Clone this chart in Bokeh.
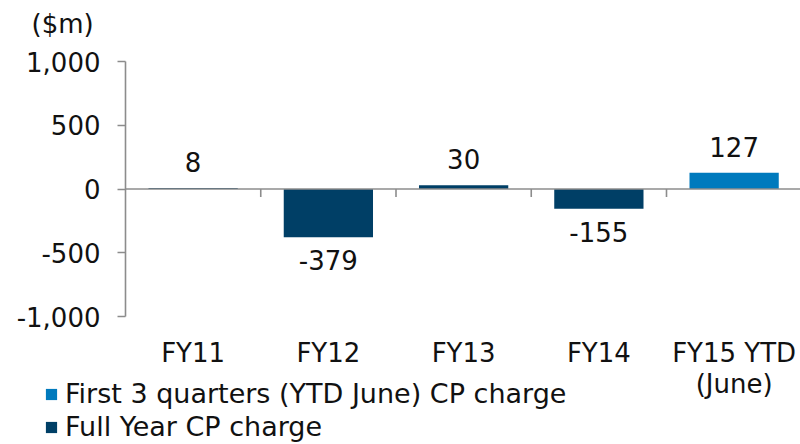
from bokeh.plotting import figure
from bokeh.models import (ColumnDataSource, Range1d, FixedTicker, NumeralTickFormatter,
                          Legend, LegendItem, Label, LinearAxis)
from bokeh.core.properties import value
from bokeh.embed import file_html
from bokeh.resources import INLINE

categories = ["FY11", "FY12", "FY13", "FY14", "FY15 YTD\n(June)"]
values = [8, -379, 30, -155, 127]
series = ["Full Year CP charge", "Full Year CP charge", "Full Year CP charge",
          "Full Year CP charge", "First 3 quarters (YTD June) CP charge"]
legend_order = ["First 3 quarters (YTD June) CP charge", "Full Year CP charge"]
y_ticks = [-1000, -500, 0, 500, 1000]
y_min, y_max = -1000, 1000
unit_label = "($m)"

DARK = "#003F66"
LIGHT = "#007ABD"
FONT = "DejaVu Sans"
TXT = "#111111"
AX = "#8c8c8c"

# canvas and plotting-area geometry (pixels)
W, H = 800, 444
AX_LEFT, AX_TOP, AX_BOTTOM = 125, 61, 316
cat_px = 135.25
y_px = (AX_BOTTOM - AX_TOP) / (y_max - y_min)

x0 = -0.5 - AX_LEFT / cat_px
x1 = -0.5 + (W - AX_LEFT) / cat_px
y_top = y_max + AX_TOP / y_px
y_bot = y_min - (H - AX_BOTTOM) / y_px

xs = list(range(len(categories)))
colors = [LIGHT if s.startswith("First") else DARK for s in series]
labels = [str(v) for v in values]
offs = [-26 if v >= 0 else 23 for v in values]

src = ColumnDataSource(dict(x=xs, top=values, label=labels, off=offs))

p = figure(width=W, height=H, output_backend="svg", toolbar_location=None,
           x_range=Range1d(x0, x1), y_range=Range1d(y_bot, y_top),
           min_border=0, x_axis_type=None, y_axis_type=None)
p.outline_line_color = None
p.grid.grid_line_color = None
p.background_fill_color = "white"
p.border_fill_color = "white"

# bars, one renderer per series for the legend
renderers = {}
for s in legend_order:
    idx = [i for i, ss in enumerate(series) if ss == s]
    sub = ColumnDataSource(dict(x=[xs[i] for i in idx], top=[values[i] for i in idx],
                                color=[colors[i] for i in idx]))
    renderers[s] = p.vbar(x="x", top="top", bottom=0, width=0.66, source=sub,
                          fill_color="color", line_color=None)

# data labels
p.text(x="x", y="top", text="label", source=src, y_offset="off",
       text_align="center", text_baseline="middle",
       text_font=value(FONT), text_font_size="26px", text_color=TXT)

# zero line across the categories
p.segment(x0=[-0.5], y0=[0], x1=[len(categories) - 0.5], y1=[0],
          line_color=AX, line_width=1.6)

# category boundary ticks on the zero line
bx = [i + 0.5 for i in range(len(categories) - 1)]
tick_len = 8 / y_px
p.segment(x0=bx, y0=[0] * len(bx), x1=bx, y1=[-tick_len] * len(bx),
          line_color=AX, line_width=1.6)

# y axis
ya = LinearAxis(fixed_location=-0.5, bounds=(y_min, y_max))
ya.ticker = FixedTicker(ticks=y_ticks)
ya.formatter = NumeralTickFormatter(format="0,0")
ya.axis_line_color = AX
ya.axis_line_width = 1.6
ya.major_tick_line_color = AX
ya.major_tick_line_width = 1.6
ya.major_tick_out = 8
ya.major_tick_in = 0
ya.minor_tick_line_color = None
ya.major_label_standoff = 17
ya.major_label_text_font = FONT
ya.major_label_text_font_size = "26px"
ya.major_label_text_color = TXT
p.add_layout(ya, "left")

# x axis (labels only)
xa = LinearAxis(fixed_location=y_min)
xa.ticker = FixedTicker(ticks=xs)
xa.major_label_overrides = {i: c for i, c in zip(xs, categories)}
xa.axis_line_color = None
xa.major_tick_line_color = None
xa.minor_tick_line_color = None
xa.major_tick_out = 0
xa.major_tick_in = 0
xa.major_label_standoff = 21
xa.major_label_text_font = FONT
xa.major_label_text_font_size = "26px"
xa.major_label_text_line_height = 1.05
xa.major_label_text_color = TXT
p.add_layout(xa, "below")

# unit label
p.add_layout(Label(x=31, y=H - 23, x_units="screen", y_units="screen", text=unit_label,
                   text_font=FONT, text_font_size="26px", text_color=TXT,
                   text_align="left", text_baseline="middle"))

legend = Legend(items=[LegendItem(label=s, renderers=[r]) for s, r in renderers.items()],
                location=(44, 2), orientation="vertical",
                label_text_font=FONT, label_text_font_size="27px", label_text_color=TXT,
                glyph_width=14, glyph_height=14, label_height=30, spacing=2,
                label_standoff=7, padding=0, margin=0,
                border_line_color=None, background_fill_alpha=0)
p.add_layout(legend, "center")

open("out.html", "w").write(file_html(p, INLINE))
